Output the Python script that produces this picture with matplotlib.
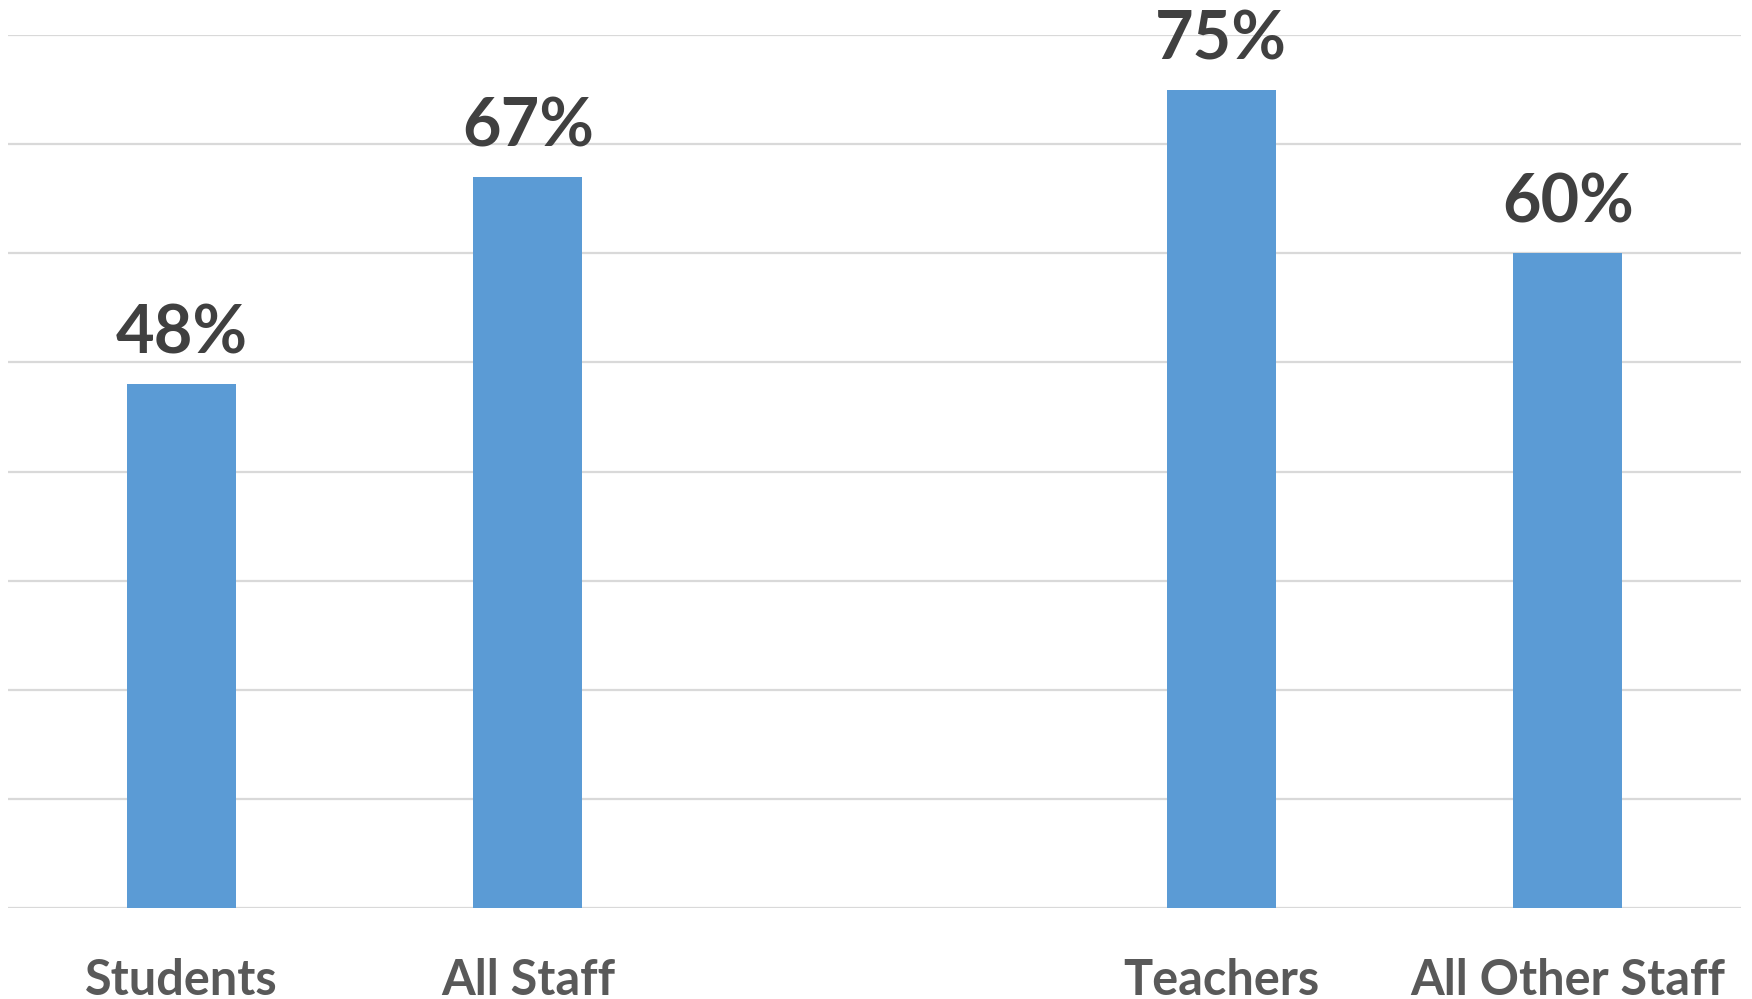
import matplotlib
matplotlib.use("Agg")
import matplotlib.pyplot as plt
import numpy as np

categories = ["Students", "All Staff", "", "Teachers", "All Other Staff"]
values = [0.48, 0.67, np.nan, 0.75, 0.60]
labels = ["48%", "67%", "", "75%", "60%"]

plt.rcParams['font.family'] = ['Lato', 'DejaVu Sans']

W, H = 1752, 999
fig = plt.figure(figsize=(W / 100, H / 100), dpi=100)
ax = fig.add_axes([8 / W, 1 - 908 / H, (1741 - 8) / W, (908 - 35) / H])

x = np.arange(len(categories))
vals = np.array(values, dtype=float)
mask = ~np.isnan(vals)
ax.bar(x[mask], vals[mask], width=0.315, color="#5B9BD5", zorder=2)

for xi, v, lab in zip(x, vals, labels):
    if np.isnan(v):
        continue
    ax.annotate(lab, (xi, v), xytext=(0, 22), textcoords="offset points",
                ha="center", va="baseline", fontsize=48, fontweight="bold",
                color="#404040")

ax.set_xlim(-0.5, len(categories) - 0.5)
ax.set_ylim(0, 0.8)
ax.set_yticks(np.arange(0, 0.81, 0.1))
ax.yaxis.grid(True, color="#D9D9D9", linewidth=1.6, zorder=0)
ax.set_axisbelow(True)
ax.tick_params(axis="y", length=0, labelleft=False)
ax.set_xticks(x)
ax.set_xticklabels(categories, fontsize=35, fontweight="bold", color="#595959")
ax.tick_params(axis="x", length=0, pad=36)
for s in ax.spines.values():
    s.set_visible(False)

fig.savefig("out.png", dpi=100)
